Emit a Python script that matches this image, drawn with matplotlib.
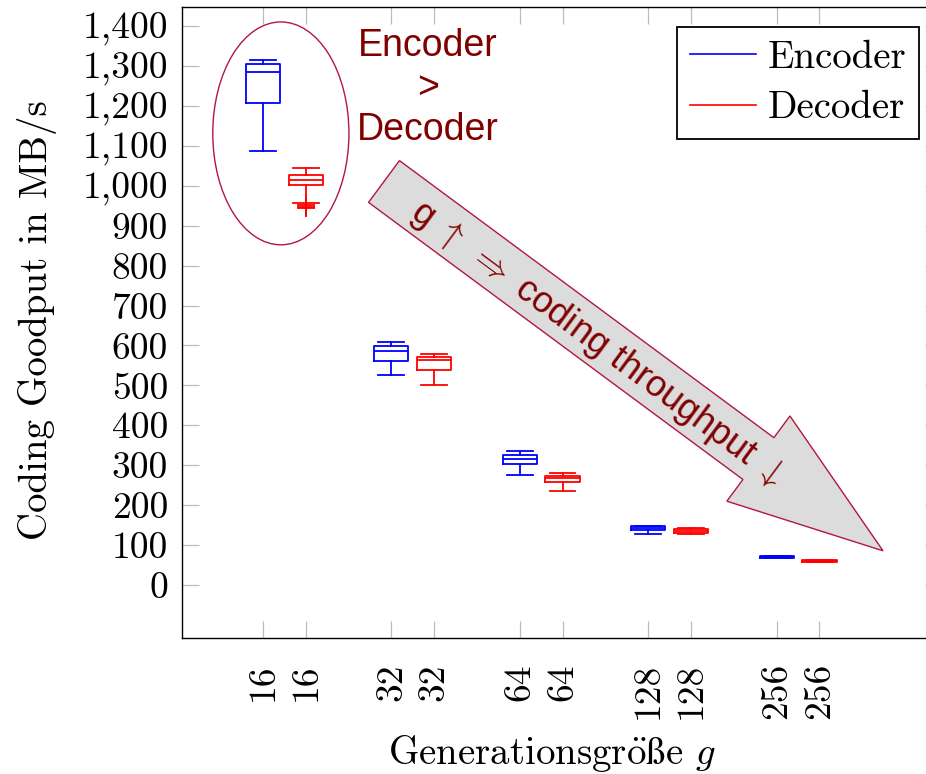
import matplotlib
matplotlib.use('Agg')
import matplotlib.pyplot as plt
from matplotlib.patches import Ellipse, FancyArrow
from matplotlib.lines import Line2D
from matplotlib.ticker import FuncFormatter

plt.rcParams['font.family'] = ['cmr10', 'DejaVu Serif']
plt.rcParams['mathtext.fontset'] = 'cm'
plt.rcParams['axes.formatter.use_mathtext'] = True

# Daten (MB/s)
groups = ['16', '32', '64', '128', '256']

enc_whishi = [1315, 608, 336, 148, 73]
enc_q3 = [1304, 599, 326, 147, 72]
enc_med = [1284, 586, 316, 143, 70]
enc_q1 = [1206, 561, 303, 138, 68]
enc_whislo = [1088, 526, 276, 128, 67]
enc_fliers = [[], [], [], [], []]

dec_whishi = [1045, 578, 281, 142, 64]
dec_q3 = [1027, 572, 274, 140, 63]
dec_med = [1014, 564, 267, 136, 61]
dec_q1 = [1002, 538, 257, 131, 59]
dec_whislo = [957, 501, 236, 128, 58]
dec_fliers = [[951, 947, 943], [], [], [], []]

yticks = list(range(0, 1500, 100))

def make_stats(whislo, q1, med, q3, whishi, fliers):
    return [dict(whislo=a, q1=b, med=c, q3=d, whishi=e, fliers=f)
            for a, b, c, d, e, f in zip(whislo, q1, med, q3, whishi, fliers)]

enc_stats = make_stats(enc_whislo, enc_q1, enc_med, enc_q3, enc_whishi, enc_fliers)
dec_stats = make_stats(dec_whislo, dec_q1, dec_med, dec_q3, dec_whishi, dec_fliers)

enc_pos = [3 * i + 1 for i in range(len(groups))]
dec_pos = [3 * i + 2 for i in range(len(groups))]

fig = plt.figure(figsize=(9.26, 7.74), dpi=100)
ax = fig.add_axes([0.1965, 0.1757, 0.8207, 0.8153])


def draw(stats, pos, color):
    lw = 1.3
    ax.bxp(stats, positions=pos, widths=0.8, capwidths=0.6,
           boxprops=dict(color=color, linewidth=lw),
           medianprops=dict(color=color, linewidth=lw),
           whiskerprops=dict(color=color, linewidth=lw),
           capprops=dict(color=color, linewidth=lw),
           flierprops=dict(marker='+', markeredgecolor=color, markersize=13, markeredgewidth=1.3),
           manage_ticks=False)


draw(enc_stats, enc_pos, '#0000ff')
draw(dec_stats, dec_pos, '#ff0000')

ax.set_xlim(-0.89, 16.86)
ax.set_ylim(-132.5, 1447.5)

ticks_x = sorted(enc_pos + dec_pos)
ax.set_xticks(ticks_x)
ax.set_xticklabels([g for g in groups for _ in range(2)], rotation=90)
ax.set_yticks(yticks)
ax.yaxis.set_major_formatter(FuncFormatter(lambda v, p: '{:,.0f}'.format(v)))

ax.tick_params(direction='in', length=12.5, width=0.9, color='#bcbcbc',
               top=True, right=True, labelsize=27)
ax.tick_params(axis='x', pad=18)
ax.tick_params(axis='y', pad=10)
for s in ax.spines.values():
    s.set_linewidth(1.0)

ax.set_ylabel('Coding Goodput in MB/s', fontsize=28)
xl = ax.set_xlabel(r'Generationsgr$\ddot{\mathrm{o}}\mathrm{\ss}$e $g$', fontsize=28)
ax.yaxis.set_label_coords(-0.165, 0.504)
ax.xaxis.set_label_coords(0.487, -0.150)
try:
    fig.canvas.draw()
except Exception:
    xl.set_text(r'Generationsgr$\ddot{\mathrm{o}}$$\beta$e $g$')

# Legende
handles = [Line2D([], [], color='#0000ff', lw=1.2), Line2D([], [], color='#ff0000', lw=1.2)]
leg = ax.legend(handles, ['Encoder', 'Decoder'], loc='upper right',
                bbox_to_anchor=(919 / 926, 1 - 27 / 774), bbox_transform=fig.transFigure,
                borderaxespad=0, fancybox=False, framealpha=1, edgecolor='black',
                fontsize=28, handlelength=1.7, handletextpad=0.3, labelspacing=0.38,
                borderpad=0.33)
leg.get_frame().set_linewidth(1.3)

# Annotationen
ring = '#b0183f'
ax.add_patch(Ellipse((1.42, 1131), 3.18, 558, fill=False, edgecolor=ring, linewidth=1.0))
ax.text(4.855, 1245, 'Encoder\n>\nDecoder', ha='center', va='center', color='#800000',
        fontsize=27, family=['Liberation Sans', 'DejaVu Sans'], linespacing=1.22)

arrow = FancyArrow(3.84, 5.925, 4.99, -3.693, width=0.52, head_width=1.06, head_length=1.55,
                   length_includes_head=True, facecolor='#dcdcdc', edgecolor=ring,
                   linewidth=1.0, transform=fig.dpi_scale_trans)
ax.add_patch(arrow)
ax.text(5.97, 4.30, r'g $\uparrow$ $\Rightarrow$ coding throughput $\downarrow$',
        transform=fig.dpi_scale_trans,
        rotation=-36.5, rotation_mode='anchor', ha='center', va='center',
        color='#800000', fontsize=26, family=['Liberation Sans', 'DejaVu Sans'])

fig.savefig('out.png', dpi=100)
